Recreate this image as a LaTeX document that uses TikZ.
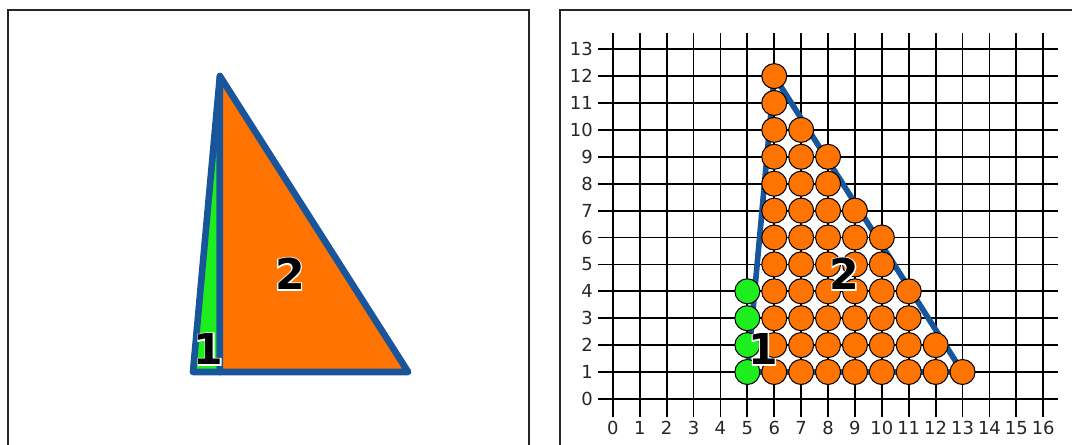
\documentclass[tikz,border=0pt]{standalone}
\usepackage{fontspec}
\setmainfont{DejaVu Sans}
\newfontfamily\halofont[FakeBold=6]{DejaVu Sans Bold}
\newcommand{\halo}[1]{\rlap{\halofont\color{white}#1}#1}
\definecolor{triorange}{RGB}{255,115,0}
\definecolor{trigreen}{RGB}{30,238,30}
\definecolor{triblue}{RGB}{25,85,155}
\tikzstyle{panel} = [draw=black!85, line width=1.6pt]
\tikzstyle{gridline} = [draw=black, line width=1.9pt]
\tikzstyle{edge} = [draw=triblue, line width=7pt, line join=round, line cap=round]
\tikzstyle{bead} = [draw=black, line width=1.1pt, circle, minimum size=0.93cm, inner sep=0pt]
\tikzstyle{tick} = [font=\fontsize{19}{19}\selectfont, text=black!85, inner sep=0pt]
\tikzstyle{part} = [font=\fontsize{45}{45}\selectfont\bfseries, inner sep=0pt]

\begin{document}
\begin{tikzpicture}
    \useasboundingbox (-2.175,-1.71) rectangle (37.68,14.83);
    \clip (-2.175,-1.71) rectangle (37.68,14.83);
    % frames
    \draw[panel] (-1.88,-3) |- (17.49,14.46) -- (17.49,-3);
    \draw[panel] (18.64,-3) |- (39,14.46);
    % left panel: the two triangles
    \filldraw[edge, fill=trigreen] (5,1) -- (6,12) -- (6,1) -- cycle;
    \filldraw[edge, fill=triorange] (6,12) -- (13,1) -- (6,1) -- cycle;
    \node[part] (one) at (5.58,1.85) {\halo{1}};
    \node[part] (two) at (8.6,4.65) {\halo{2}};
    % right panel: grid and beads
    \begin{scope}[xshift=20.61cm]
      \foreach \x in {0,...,16} {
        \draw[gridline] (\x,-0.67) -- (\x,13.6);
        \node[tick] (xt\x) at (\x,-1.08) {\x};
      }
      \foreach \y in {0,...,13} {
        \draw[gridline] (-0.56,\y) -- (16.54,\y);
        \node[tick, anchor=east] (yt\y) at (-0.74,\y) {\y};
      }
      \draw[edge, line width=6pt] (5,1) -- (6,12) -- (13,1) -- cycle;
      \foreach \y in {1,...,4}
        \node[bead, fill=trigreen] (g\y) at (5,\y) {};
      \foreach \x/\h in {6/12,7/10,8/9,9/7,10/6,11/4,12/2,13/1}
        \foreach \y in {1,...,\h}
          \node[bead, fill=triorange] (o\x-\y) at (\x,\y) {};
      \node[part] (rone) at (5.58,1.85) {\halo{1}};
      \node[part] (rtwo) at (8.6,4.65) {\halo{2}};
    \end{scope}
\end{tikzpicture}
\end{document}
